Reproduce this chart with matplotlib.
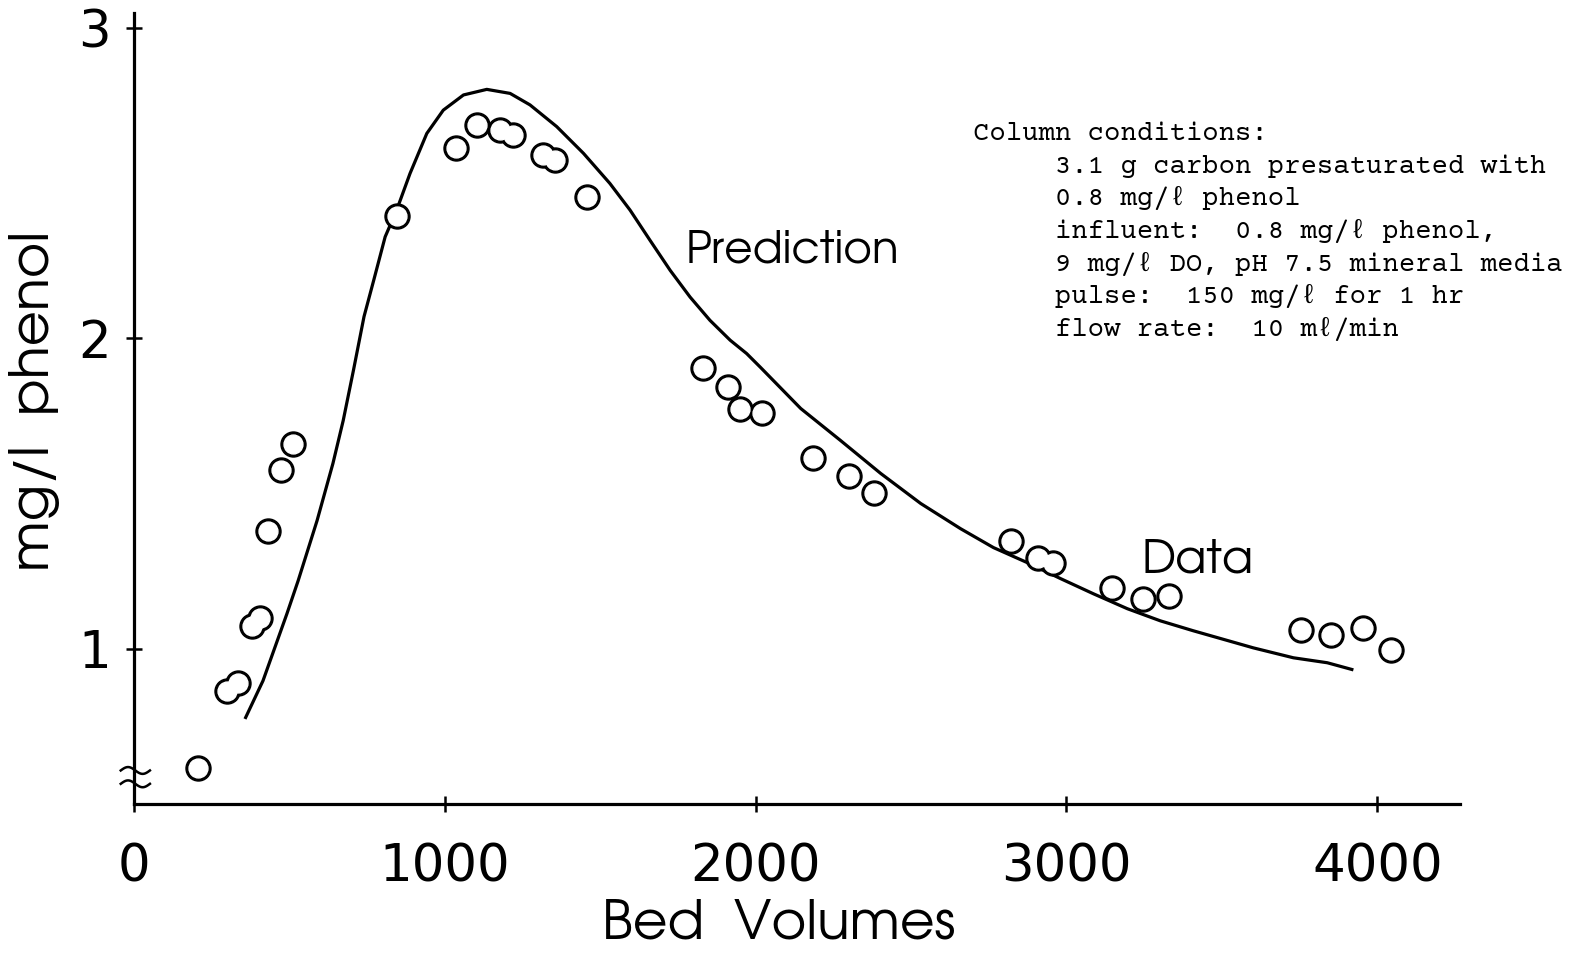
import numpy as np
import matplotlib
matplotlib.use("Agg")
import matplotlib.pyplot as plt
import matplotlib.transforms as mtransforms

# ---- data ----
bv_data = [206, 299, 335, 380, 405, 431, 473, 512, 846, 1036, 1104, 1178, 1219,
           1316, 1355, 1458, 1831, 1911, 1950, 2021, 2185, 2301, 2381, 2822,
           2909, 2957, 3147, 3246, 3330, 3755, 3851, 3954, 4044]
phenol_data = [0.616, 0.865, 0.89, 1.074, 1.10, 1.38, 1.577, 1.66, 2.394, 2.613,
               2.687, 2.671, 2.655, 2.59, 2.574, 2.455, 1.903, 1.842, 1.774,
               1.758, 1.613, 1.555, 1.503, 1.348, 1.294, 1.277, 1.197, 1.161,
               1.171, 1.061, 1.045, 1.068, 0.997]

bv_pred = [357, 415, 492, 528, 589, 640, 673, 706, 740, 772, 808, 845, 888,
           942, 995, 1060, 1135, 1210, 1274, 1360, 1446, 1531, 1596, 1660,
           1725, 1789, 1853, 1918, 1971, 2016, 2145, 2273, 2402, 2531, 2659,
           2765, 2875, 2981, 3087, 3196, 3302, 3408, 3601, 3730, 3839, 3923]
phenol_pred = [0.774, 0.897, 1.113, 1.219, 1.413, 1.597, 1.735, 1.897, 2.070,
               2.190, 2.327, 2.413, 2.531, 2.660, 2.735, 2.784, 2.802, 2.789,
               2.752, 2.682, 2.596, 2.499, 2.413, 2.316, 2.219, 2.133, 2.058,
               1.994, 1.951, 1.906, 1.774, 1.671, 1.565, 1.468, 1.387, 1.326,
               1.277, 1.226, 1.177, 1.129, 1.090, 1.058, 1.003, 0.971, 0.955,
               0.932]

x_ticks = [0, 1000, 2000, 3000, 4000]
y_ticks = [1, 2, 3]

conditions = [
    "Column conditions:",
    "     3.1 g carbon presaturated with",
    "     0.8 mg/\u2113 phenol",
    "     influent:  0.8 mg/\u2113 phenol,",
    "     9 mg/\u2113 DO, pH 7.5 mineral media",
    "     pulse:  150 mg/\u2113 for 1 hr",
    "     flow rate:  10 m\u2113/min",
]

SANS = ["TeX Gyre Adventor", "DejaVu Sans"]
DIGITS = ["DejaVu Sans"]
MONO = ["Courier Prime", "Liberation Mono", "DejaVu Sans Mono"]
plt.rcParams["font.family"] = SANS

W, H = 1572, 965
fig = plt.figure(figsize=(W / 100, H / 100), dpi=100)
ax = fig.add_axes([134 / W, 1 - 804 / H, (1460 - 134) / W, (804 - 13) / H])

ax.set_xlim(0, 4266)
ax.set_ylim(0.5, 3.048)

ax.plot(bv_pred, phenol_pred, color="black", lw=2.3, zorder=2,
        solid_capstyle="butt", solid_joinstyle="round")
# union outline of circles: black disks, then white disks on top
ax.plot(bv_data, phenol_data, "o", ms=18, color="black", zorder=3,
        linestyle="none")
ax.plot(bv_data, phenol_data, "o", ms=13.6, color="white", zorder=4,
        linestyle="none")

for s in ["top", "right"]:
    ax.spines[s].set_visible(False)
for s in ["left", "bottom"]:
    ax.spines[s].set_linewidth(2.3)

ax.set_xticks(x_ticks)
ax.set_yticks(y_ticks)
ax.set_xticklabels([str(v) for v in x_ticks], family=DIGITS)
ax.set_yticklabels([str(v) for v in y_ticks], family=DIGITS)
ax.tick_params(axis="both", direction="inout", length=11, width=1.8,
               labelsize=37, colors="black")
ax.tick_params(axis="x", pad=22)
ax.tick_params(axis="y", pad=11)

ax.set_xlabel("Bed  Volumes", fontsize=38.5)
ax.xaxis.set_label_coords(0.486, -0.120)
ax.set_ylabel("mg/l  phenol", fontsize=39)
ax.yaxis.set_label_coords(-0.056, 0.51)

ax.text(1775, 2.245, "Prediction", fontsize=31.5, va="baseline", ha="left")
ax.text(3240, 1.245, "Data", fontsize=33, va="baseline", ha="left")

# axis break mark on the y axis
trans = mtransforms.blended_transform_factory(ax.transAxes, ax.transData)
t = np.linspace(-1, 1, 40)
for y0 in (0.608, 0.565):
    ax.plot(t * 0.011 + 0.001, y0 - 0.011 * np.sin(np.pi * t), color="black",
            lw=1.8, transform=trans, clip_on=False, zorder=5)

# conditions text block
for i, line in enumerate(conditions):
    fig.text(973 / W, 1 - (140 + 32.7 * i) / H, line,
             family=MONO, fontsize=19.7, va="baseline", ha="left")

fig.savefig("out.png", dpi=100, facecolor="white")
